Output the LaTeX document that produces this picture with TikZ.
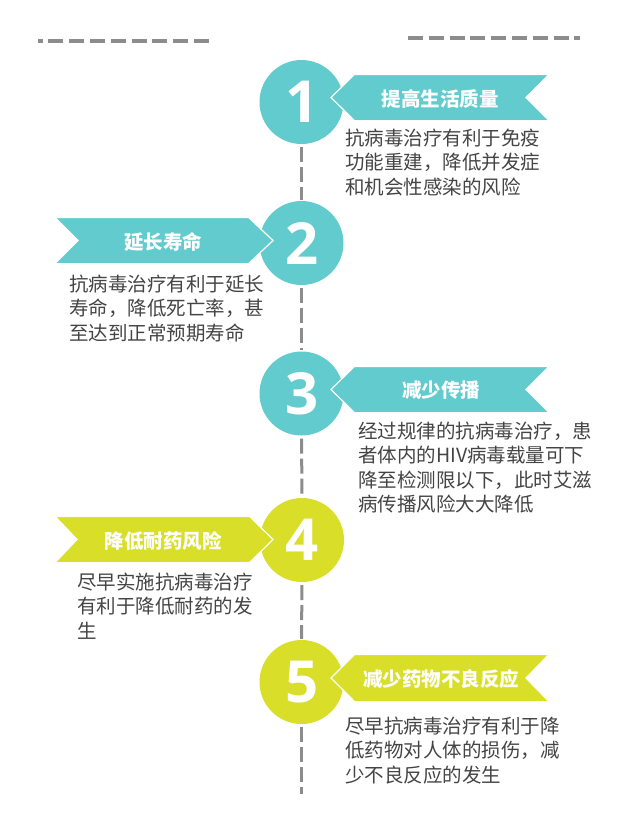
\documentclass[tikz,border=0pt]{standalone}
\usepackage{fontspec}
\setmainfont{Noto Sans CJK SC}
\newfontfamily\digitfont{Open Sans}
\definecolor{teal1}{HTML}{62CBCE}
\definecolor{lime1}{HTML}{D9DE29}
\definecolor{dash1}{HTML}{8C8C8C}
\definecolor{body1}{HTML}{444444}
\newcommand{\circnum}[1]{\hspace*{1pt}\raisebox{-1pt}{#1}}
\tikzset{
  numcircle/.style={circle,minimum size=84pt,inner sep=0pt,text=white,font=\digitfont\bfseries\fontsize{58}{58}\selectfont},
  rib/.style={draw=white,line width=1.2pt,line join=miter},
  ribtext/.style={text=white,font=\bfseries\fontsize{19.5}{22}\selectfont,inner sep=0pt},
  bodytext/.style={anchor=north west,align=left,text=body1,inner sep=0pt,font=\fontsize{19.5}{24.5}\selectfont},
  dashline/.style={draw=dash1,line width=3pt,dash pattern=on 15pt off 5pt},
  topline/.style={draw=dash1,line width=3.2pt,dash pattern=on 15pt off 5.8pt}
}
\begin{document}
\begin{tikzpicture}[x=1pt,y=-1pt]
\useasboundingbox (0,0) rectangle (642,831);
% top rules
\coordinate (tl1) at (209,41); \coordinate (tl2) at (38,41);
\coordinate (tr1) at (408,38); \coordinate (tr2) at (580,38);
\draw[topline] (tl1) -- (tl2);
\draw[topline] (tr1) -- (tr2);
% circles
\node[numcircle,fill=teal1] (c1) at (301.5,102) {\circnum{1}};
\node[numcircle,fill=teal1] (c2) at (301.5,243) {\circnum{2}};
\node[numcircle,fill=teal1] (c3) at (301.5,393.5) {\circnum{3}};
\node[numcircle,fill=lime1] (c4) at (302,540) {\circnum{4}};
\node[numcircle,fill=lime1] (c5) at (301.5,682) {\circnum{5}};
\coordinate (endp) at (301.5,794);
% connectors
\draw[dashline,shorten <=3pt,shorten >=1pt] (c1) -- (c2);
\draw[dashline,shorten <=3pt,shorten >=1pt] (c2) -- (c3);
\draw[dashline,shorten <=3pt,shorten >=1pt] (c3) -- (c4);
\draw[dashline,shorten <=3pt,shorten >=1pt] (c4) -- (c5);
\draw[dashline,shorten <=3pt] (c5) -- (endp);
% ribbons
\fill[teal1,rib] (331,97.5) -- (354.5,74.4) -- (549,74.4) -- (526,97.5) -- (549,120.6) -- (354.5,120.6) -- cycle;
\fill[teal1,rib] (55,217.4) -- (248.5,217.4) -- (273,240.5) -- (248.5,263.6) -- (55,263.6) -- (78,240.5) -- cycle;
\fill[teal1,rib] (331,389.5) -- (354.5,366.4) -- (549,366.4) -- (526,389.5) -- (549,412.6) -- (354.5,412.6) -- cycle;
\fill[lime1,rib] (55,516.4) -- (249.5,516.4) -- (273,539.5) -- (249.5,562.6) -- (55,562.6) -- (77,539.5) -- cycle;
\fill[lime1,rib] (331,678) -- (354.5,654.4) -- (549,654.4) -- (526,678) -- (549,701.6) -- (354.5,701.6) -- cycle;
% ribbon labels
\node[ribtext] (r1) at (440,98.5) {提高生活质量};
\node[ribtext] (r2) at (163,241.5) {延长寿命};
\node[ribtext] (r3) at (441,390.5) {减少传播};
\node[ribtext] (r4) at (163,541.5) {降低耐药风险};
\node[ribtext] (r5) at (441,679.5) {减少药物不良反应};
% body
\node[bodytext] (b1) at (345,128.5) {抗病毒治疗有利于免疫\\功能重建，降低并发症\\和机会性感染的风险};
\node[bodytext] (b2) at (69,274.5) {抗病毒治疗有利于延长\\寿命，降低死亡率，甚\\至达到正常预期寿命};
\node[bodytext] (b3) at (358,421.5) {经过规律的抗病毒治疗，患\\者体内的HIV病毒载量可下\\降至检测限以下，此时艾滋\\病传播风险大大降低};
\node[bodytext] (b4) at (77,572.5) {尽早实施抗病毒治疗\\有利于降低耐药的发\\生};
\node[bodytext] (b5) at (345,716.5) {尽早抗病毒治疗有利于降\\低药物对人体的损伤，减\\少不良反应的发生};
\end{tikzpicture}
\end{document}
